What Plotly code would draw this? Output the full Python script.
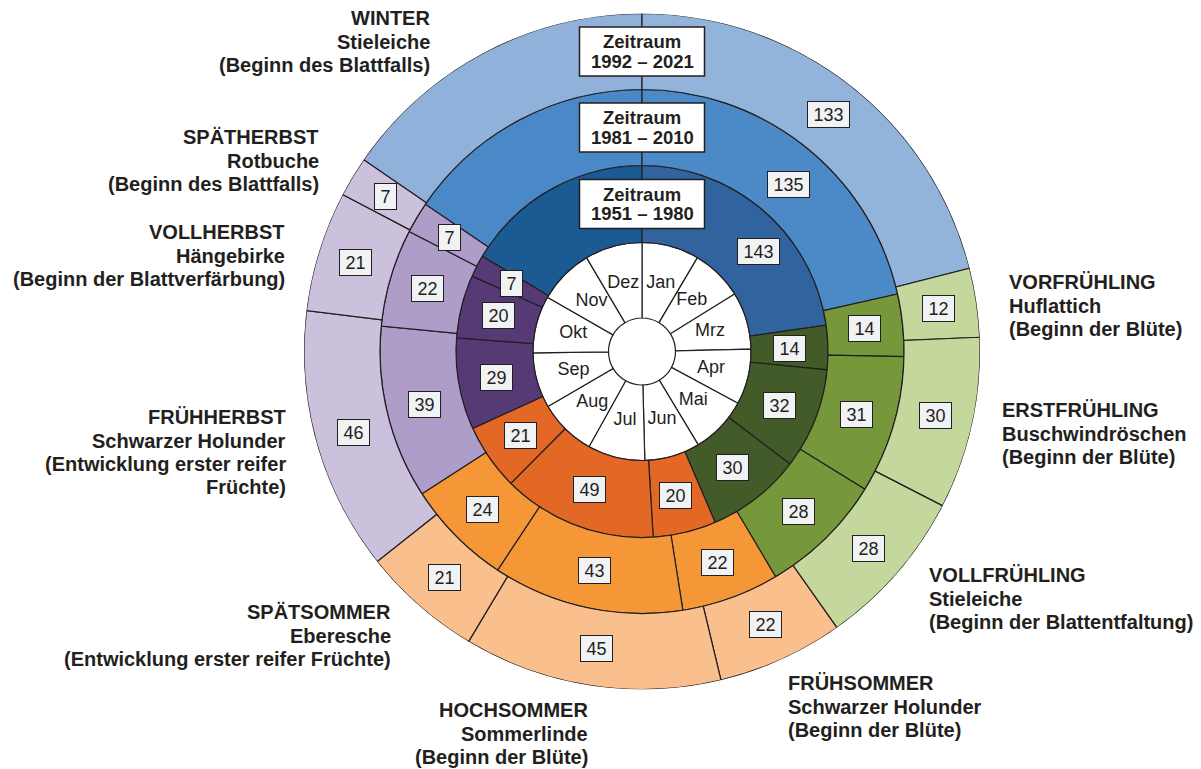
import numpy as np
import plotly.graph_objects as go

# Phänologische Jahreszeiten, Dauer in Tagen (im Uhrzeigersinn ab Winter)
phasen = ["Winter", "Vorfrühling", "Erstfrühling", "Vollfrühling", "Frühsommer",
          "Hochsommer", "Spätsommer", "Frühherbst", "Vollherbst", "Spätherbst"]
dauer_1951_1980 = [143, 14, 32, 30, 20, 49, 21, 29, 20, 7]
dauer_1981_2010 = [135, 14, 31, 28, 22, 43, 24, 39, 22, 7]
dauer_1992_2021 = [133, 12, 30, 28, 22, 45, 21, 46, 21, 7]
zeitraeume = ["1951 – 1980", "1981 – 2010", "1992 – 2021"]
# Beginn des Winters, Tage relativ zum 1. Januar
winterbeginn = [-60.0, -56.6, -56.2]

monate = ["Jan", "Feb", "Mrz", "Apr", "Mai", "Jun", "Jul", "Aug", "Sep", "Okt", "Nov", "Dez"]
monatstage = [31, 28, 31, 30, 31, 30, 31, 31, 30, 31, 30, 31]

# Beschriftung aussen: (x, y der ersten Zeile, Seite, Zeilen)
beschriftungen = [
    (432, 18, "right", ["WINTER", "Stieleiche", "(Beginn des Blattfalls)"]),
    (321, 137, "right", ["SPÄTHERBST", "Rotbuche", "(Beginn des Blattfalls)"]),
    (287, 232, "right", ["VOLLHERBST", "Hängebirke", "(Beginn der Blattverfärbung)"]),
    (288, 417, "right", ["FRÜHHERBST", "Schwarzer Holunder", "(Entwicklung erster reifer", "Früchte)"]),
    (393, 612, "right", ["SPÄTSOMMER", "Eberesche", "(Entwicklung erster reifer Früchte)"]),
    (590, 710, "right", ["HOCHSOMMER", "Sommerlinde", "(Beginn der Blüte)"]),
    (1007, 282, "left", ["VORFRÜHLING", "Huflattich", "(Beginn der Blüte)"]),
    (1000, 410, "left", ["ERSTFRÜHLING", "Buschwindröschen", "(Beginn der Blüte)"]),
    (927, 575, "left", ["VOLLFRÜHLING", "Stieleiche", "(Beginn der Blattentfaltung)"]),
    (786, 683, "left", ["FRÜHSOMMER", "Schwarzer Holunder", "(Beginn der Blüte)"]),
]

# Farben je Ring: Winter (vor / nach 1. Jan), Frühling, Sommer, Herbst
farben = [
    ["#1c5a93", "#31649f", "#435b28", "#e36725", "#553a75"],
    ["#4a88c7", "#4c89c7", "#77973b", "#f59637", "#ae9dc8"],
    ["#90b2da", "#92b4db", "#c4d79c", "#f9bf8d", "#cbc1dd"],
]
jahreszeit = [0, 2, 2, 2, 3, 3, 3, 4, 4, 4]

W, H = 1201, 769
CX, CY, R = 642, 351.5, 338
radien = [33.5, 109, 186, 262, 338]
GRAD = 360 / 365
LINIE = "#231f20"
FONT = "Liberation Sans, Arial, sans-serif"

# Lage der Winterzahl (Winkel, Radius)
winter_label = [(49.4, 153), (41.3, 222), (38.2, 301)]

fig = go.Figure()

# Monatsring
tage = np.array(monatstage)
m_start = np.concatenate([[0], np.cumsum(tage)[:-1]])
m_theta = (m_start + tage / 2) * GRAD
fig.add_trace(go.Barpolar(
    theta=m_theta, r=[radien[1] - radien[0]] * 12, base=radien[0],
    width=tage * GRAD,
    marker=dict(color="white", line=dict(color=LINIE, width=1.2)),
    hoverinfo="skip"
))
fig.add_trace(go.Scatterpolar(
    theta=m_theta, r=[71] * 12, mode="text", text=monate,
    textfont=dict(family=FONT, size=18, color=LINIE),
    hoverinfo="skip"
))

annotations = []
shapes = []
alle_dauern = [dauer_1951_1980, dauer_1981_2010, dauer_1992_2021]
for i, dauer in enumerate(alle_dauern):
    r0, r1 = radien[i + 1], radien[i + 2]
    start = winterbeginn[i]
    d = np.array(dauer, dtype=float)
    anfang = start + np.concatenate([[0], np.cumsum(d)[:-1]])
    # Winter am 1. Januar teilen
    seg_start = np.array([anfang[0], 0.0] + list(anfang[1:]))
    seg_len = np.array([-start, d[0] + start] + list(d[1:]))
    seg_col = [farben[i][0], farben[i][1]] + [farben[i][jahreszeit[j]] for j in range(1, 10)]
    fig.add_trace(go.Barpolar(
        theta=(seg_start + seg_len / 2) * GRAD, r=[r1 - r0] * len(seg_len), base=r0,
        width=seg_len * GRAD,
        marker=dict(color=seg_col, line=dict(color=LINIE, width=1.2)),
        hoverinfo="skip"
    ))

    rm = (r0 + r1) / 2
    for j in range(10):
        if j == 0:
            th, rr = winter_label[i]
        else:
            th, rr = (anfang[j] + d[j] / 2) * GRAD, rm
        txt = str(dauer[j])
        annotations.append(dict(
            xref="x", yref="y", x=rr * np.sin(np.radians(th)), y=rr * np.cos(np.radians(th)),
            text=txt, showarrow=False, font=dict(family=FONT, size=18, color=LINIE),
            bgcolor="#f1f2f4", bordercolor=LINIE, borderwidth=1, borderpad=0,
            width=11 + 10 * len(txt), height=25
        ))

    # Kasten "Zeitraum" mit zwei eng gesetzten Zeilen
    shapes.append(dict(
        type="rect", xref="x", yref="y", x0=-62.5, x1=62.5, y0=rm - 24.5, y1=rm + 24.5,
        fillcolor="white", line=dict(color=LINIE, width=1.5), layer="above"
    ))
    for k, zeile in enumerate(["Zeitraum", zeitraeume[i]]):
        annotations.append(dict(
            xref="x", yref="y", x=0, y=rm + 9.7 - 19.4 * k, text=f"<b>{zeile}</b>",
            showarrow=False, font=dict(family=FONT, size=18.5, color=LINIE)
        ))

for x, y, seite, zeilen in beschriftungen:
    for k, zeile in enumerate(zeilen):
        annotations.append(dict(
            xref="paper", yref="paper", x=x / W, y=1 - (y + k * 23.5) / H,
            xanchor=seite, yanchor="middle", align=seite,
            text=f"<b>{zeile}</b>", showarrow=False,
            font=dict(family=FONT, size=20, color=LINIE)
        ))

# unsichtbare Achsen für die Beschriftung im Kreis
fig.add_trace(go.Scatter(x=[-R, R], y=[-R, R], mode="markers",
                         marker=dict(opacity=0), hoverinfo="skip", showlegend=False))

dom_x = [(CX - R) / W, (CX + R) / W]
dom_y = [(H - CY - R) / H, (H - CY + R) / H]

fig.update_layout(
    width=W, height=H,
    margin=dict(l=0, r=0, t=0, b=0),
    paper_bgcolor="white",
    plot_bgcolor="rgba(0,0,0,0)",
    showlegend=False,
    polar=dict(
        domain=dict(x=dom_x, y=dom_y),
        bgcolor="white",
        bargap=0,
        radialaxis=dict(range=[0, R], visible=False),
        angularaxis=dict(rotation=90, direction="clockwise", visible=False,
                         thetaunit="degrees")
    ),
    xaxis=dict(domain=dom_x, range=[-R, R], visible=False, fixedrange=True),
    yaxis=dict(domain=dom_y, range=[-R, R], visible=False, fixedrange=True),
    shapes=shapes,
    annotations=annotations
)

fig.write_html("out.html", config={"displayModeBar": False},
               post_script="document.body.style.margin='0';document.body.style.overflow='hidden';")
